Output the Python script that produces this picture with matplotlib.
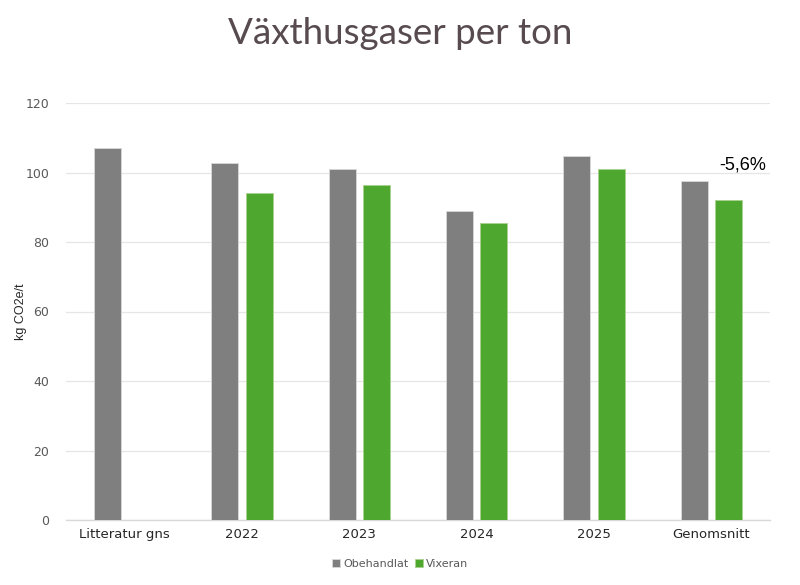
import numpy as np
import matplotlib.pyplot as plt

categories = ['Litteratur gns', '2022', '2023', '2024', '2025', 'Genomsnitt']
obehandlat = [107.0, 102.6, 100.9, 89.0, 104.8, 97.6]
vixeran = [np.nan, 94.2, 96.5, 85.5, 101.1, 92.2]
change_label = '-5,6%'

grey = '#7f7f7f'
green = '#4ea72e'
text_col = '#595959'

fig = plt.figure(figsize=(8, 5.85), dpi=100)
ax = fig.add_axes([66 / 800, 65 / 585, 704 / 800, 417 / 585])

x = np.arange(len(categories))
w = 0.23
off = 0.145
ax.bar(x - off, obehandlat, w, color=grey, edgecolor='#d9d9d9', linewidth=0.6,
       label='Obehandlat', zorder=3)
ax.bar(x + off, vixeran, w, color=green, edgecolor='#a9d18e', linewidth=0.6,
       label='Vixeran', zorder=3)

# change label above the last group
ax.text(x[-1] + 0.27, vixeran[-1] + 7.5, change_label, fontsize=13,
        color='black', ha='center', va='bottom', family='Liberation Sans')

ax.set_xlim(-0.5, len(categories) - 0.5)
ax.set_ylim(0, 120)
ax.set_yticks(np.arange(0, 121, 20))
ax.set_xticks(x)
ax.set_xticklabels(categories, fontsize=9.5, color='#262626')
ax.tick_params(axis='y', labelsize=9, colors=text_col, length=0, pad=12)
ax.tick_params(axis='x', length=0, pad=6)
ax.grid(axis='y', color='#e6e6e6', linewidth=0.9, zorder=0)
for s in ['top', 'right', 'left']:
    ax.spines[s].set_visible(False)
ax.spines['bottom'].set_color('#d9d9d9')
ax.spines['bottom'].set_linewidth(1.0)
ax.set_ylabel('kg CO2e/t', fontsize=9, color='#262626', family='Liberation Sans')
ax.yaxis.set_label_coords(-0.056, 0.5)

fig.text(0.5, 0.943, 'Växthusgaser per ton', ha='center', va='center',
         fontsize=26.5, color='#574b4f', family='Lato')

fig.legend(loc='center', bbox_to_anchor=(0.5, 0.036), ncol=2, frameon=False,
           fontsize=8, handlelength=0.7, handleheight=0.7, handletextpad=0.3,
           columnspacing=0.6, labelcolor=text_col)

fig.savefig('out.png', dpi=100)
